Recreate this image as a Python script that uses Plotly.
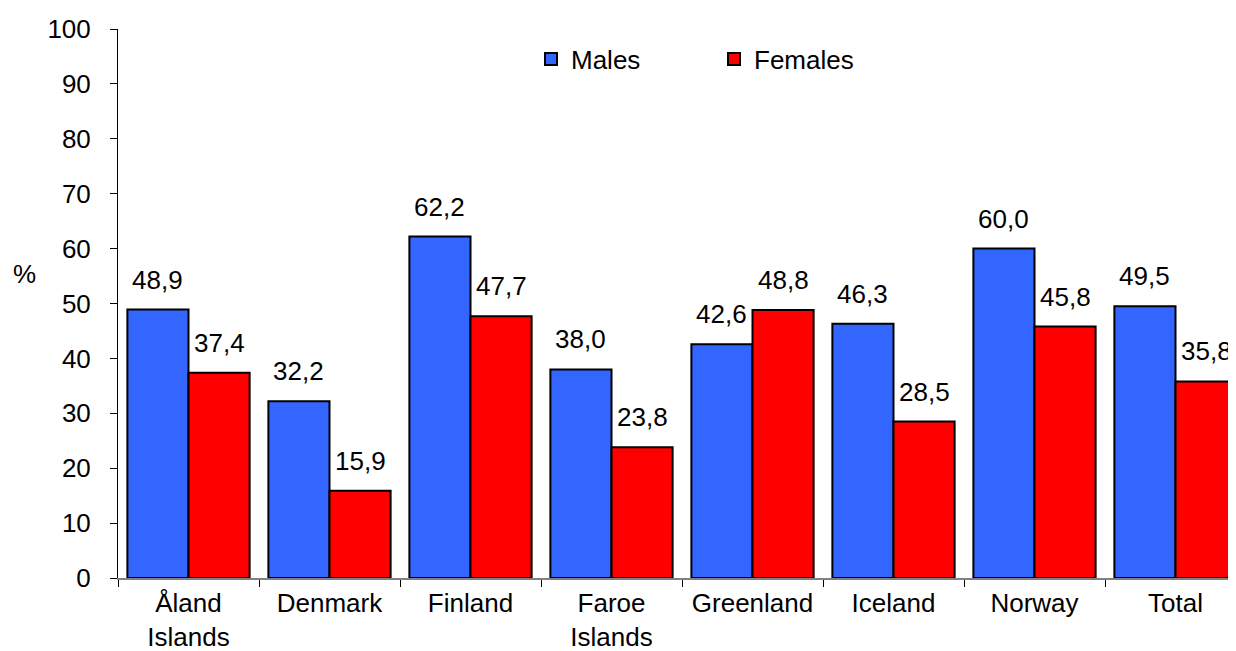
import plotly.graph_objects as go

categories = ["Åland<br>Islands", "Denmark", "Finland", "Faroe<br>Islands",
              "Greenland", "Iceland", "Norway", "Total"]
males = [48.9, 32.2, 62.2, 38.0, 42.6, 46.3, 60.0, 49.5]
females = [37.4, 15.9, 47.7, 23.8, 48.8, 28.5, 45.8, 35.8]
y_ticks = list(range(0, 101, 10))

BLUE = "#3366FF"
RED = "#FF0000"
FONT = "Liberation Sans, Arial, sans-serif"
FS = 26

# the page body has an 8px margin; size the figure so it fills the window exactly
OFF = 8
W, H = 1236 - OFF, 651 - OFF
ML, MR, MT, MB = 118 - OFF, 0, 29 - OFF, H - (578 - OFF)
plot_w = W - ML - MR
plot_h = H - MT - MB
cat_px = 141.0
bargap = 0.133
bar_px = cat_px * (1 - bargap) / 2


def px_x(page_x):
    return (page_x - 118) / plot_w


def px_y(page_y):
    return (578 - page_y) / plot_h


fig = go.Figure()
fig.add_trace(go.Bar(x=categories, y=males, name="Males",
                     marker=dict(color=BLUE, line=dict(color="black", width=2)),
                     legend="legend", showlegend=True))
fig.add_trace(go.Bar(x=categories, y=females, name="Females",
                     marker=dict(color=RED, line=dict(color="black", width=2)),
                     legend="legend2", showlegend=True))

fmt = lambda v: f"{v:.1f}".replace(".", ",")
annotations = []
for series, shift in ((males, -bar_px / 2), (females, bar_px / 2)):
    for c, v in zip(categories, series):
        annotations.append(dict(x=c, y=v, xref="x", yref="y", text=fmt(v),
                                showarrow=False, xshift=shift, yshift=13,
                                yanchor="bottom", xanchor="center",
                                font=dict(family=FONT, size=FS, color="black")))
annotations.append(dict(x=px_x(24), y=px_y(274),
                        xref="paper", yref="paper", text="%", showarrow=False,
                        xanchor="center", yanchor="middle",
                        font=dict(family=FONT, size=FS, color="black")))

fig.update_layout(
    width=W, height=H,
    margin=dict(l=ML, r=MR, t=MT, b=MB, pad=0, autoexpand=False),
    paper_bgcolor="white", plot_bgcolor="white",
    barmode="group", bargap=bargap, bargroupgap=0,
    font=dict(family=FONT, size=FS, color="black"),
    annotations=annotations,
    showlegend=True,
    legend=dict(orientation="h", x=px_x(531), y=px_y(59),
                xanchor="left", yanchor="middle", bgcolor="rgba(0,0,0,0)",
                font=dict(family=FONT, size=FS), itemwidth=30),
    legend2=dict(orientation="h", x=px_x(714), y=px_y(59),
                 xanchor="left", yanchor="middle", bgcolor="rgba(0,0,0,0)",
                 font=dict(family=FONT, size=FS), itemwidth=30),
    xaxis=dict(range=[-0.5, -0.5 + plot_w / cat_px], showgrid=False,
               showline=True, linecolor="#808080", linewidth=2,
               ticks="outside", ticklen=7, tickcolor="black", tickwidth=1,
               tickson="boundaries", tickfont=dict(family=FONT, size=FS),
               ticklabelstandoff=1, automargin=False, fixedrange=True),
    yaxis=dict(range=[0, 100], tickvals=y_ticks, showgrid=False, zeroline=False,
               showline=True, linecolor="black", linewidth=1,
               ticks="outside", ticklen=7, tickcolor="black", tickwidth=1,
               ticklabelstandoff=14, tickfont=dict(family=FONT, size=FS),
               automargin=False, fixedrange=True),
)

fig.write_html("out.html")
